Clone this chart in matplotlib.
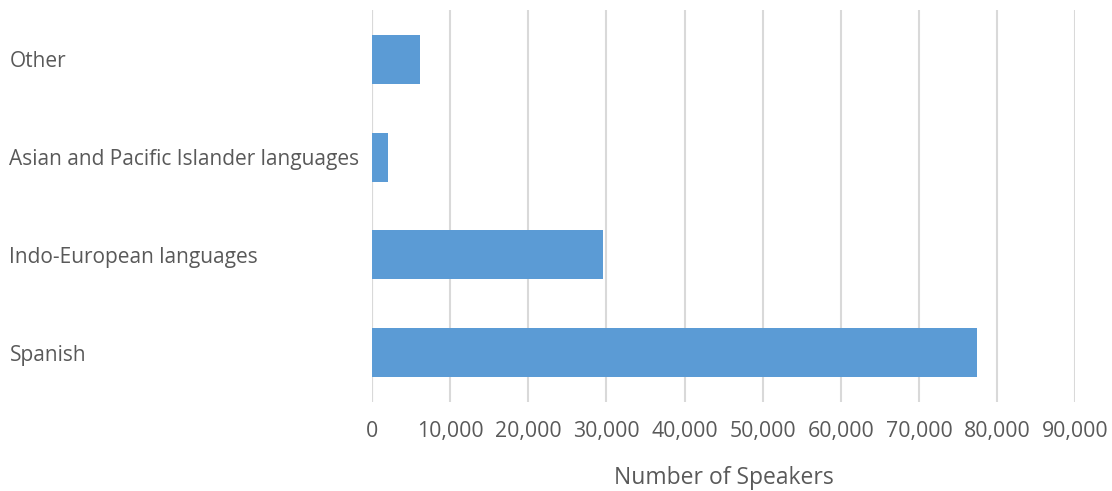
import matplotlib
matplotlib.use('Agg')
import matplotlib.pyplot as plt
from matplotlib.ticker import FuncFormatter

# Speakers by language group
languages = ['Spanish', 'Indo-European languages', 'Asian and Pacific Islander languages', 'Other']
speakers = [77400, 29500, 2000, 6200]
x_ticks = list(range(0, 90001, 10000))

plt.rcParams['font.family'] = ['Open Sans', 'DejaVu Sans']
text_color = '#595959'
grid_color = '#d9d9d9'

fig = plt.figure(figsize=(11.12, 4.91), dpi=100)
ax = fig.add_axes([0.3345, 0.1813, 0.6325, 0.7983])

ax.barh(range(len(languages)), speakers, height=0.5, color='#5b9bd5', zorder=3)

ax.set_xlim(0, 90000)
ax.set_ylim(-0.5, len(languages) - 0.5)
ax.set_xticks(x_ticks)
ax.xaxis.set_major_formatter(FuncFormatter(lambda v, p: f'{int(v):,}'))
ax.grid(axis='x', color=grid_color, linewidth=1.5, zorder=0)
ax.axvline(0, color=grid_color, linewidth=1.5, zorder=1)

for s in ax.spines.values():
    s.set_visible(False)

ax.tick_params(axis='x', length=0, pad=14, labelsize=15.3, labelcolor=text_color)
ax.tick_params(axis='y', length=0, pad=261, labelsize=15, labelcolor=text_color)
ax.set_yticks(range(len(languages)))
ax.set_yticklabels(languages)
for lbl in ax.get_yticklabels():
    lbl.set_ha('left')

ax.set_xlabel('Number of Speakers', fontsize=16.5, color=text_color, labelpad=17)

fig.savefig('out.png', dpi=100)
